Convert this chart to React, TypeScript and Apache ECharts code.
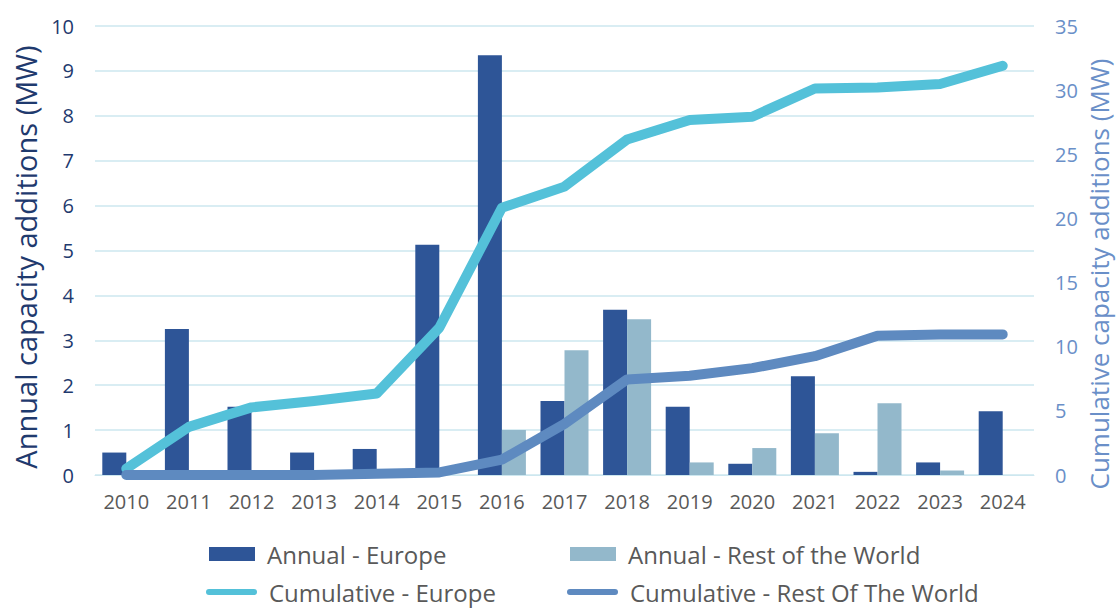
import React, { useEffect, useRef } from "react";
import * as echarts from "echarts";

const years = ["2010","2011","2012","2013","2014","2015","2016","2017","2018","2019","2020","2021","2022","2023","2024"];
const annualEurope = [0.5, 3.25, 1.52, 0.5, 0.58, 5.13, 9.35, 1.65, 3.68, 1.52, 0.25, 2.2, 0.07, 0.28, 1.42];
const annualRow = [0, 0, 0, 0, 0, 0, 1.0, 2.78, 3.47, 0.28, 0.6, 0.93, 1.6, 0.1, 0];
const cumEurope = [0.5, 3.75, 5.27, 5.77, 6.35, 11.48, 20.83, 22.48, 26.16, 27.68, 27.93, 30.13, 30.2, 30.48, 31.9];
const cumRow = [0, 0, 0, 0, 0.1, 0.2, 1.2, 3.98, 7.45, 7.73, 8.33, 9.26, 10.86, 10.96, 10.96];
const leftTicks = { min: 0, max: 10, interval: 1 };
const rightTicks = { min: 0, max: 35, interval: 5 };

const FONT = "'Open Sans', sans-serif";
const C_EU = "#2E5597";
const C_ROW = "#93B8CB";
const C_CEU = "#54C1D9";
const C_CROW = "#5E8AC0";
const lineIcon = "path://M3,0 L48,0 A3,3 0 0 1 48,6 L3,6 A3,3 0 0 1 3,0 Z";

export default function App() {
  const ref = useRef<HTMLDivElement>(null);
  useEffect(() => {
    const chart = echarts.init(ref.current!, null, { renderer: "svg" });
    const legendText = { fontFamily: FONT, fontSize: 24, color: "#595959", padding: [0, 0, 0, 7] };
    chart.setOption({
      animation: false,
      backgroundColor: "#ffffff",
      grid: { left: 95, right: 83, top: 26, bottom: 134, containLabel: false },
      legend: [
        { data: ["Annual - Europe"], left: 204, top: 537, itemWidth: 46, itemHeight: 14, textStyle: legendText, icon: "rect" },
        { data: ["Annual - Rest of the World"], left: 565, top: 537, itemWidth: 46, itemHeight: 14, textStyle: legendText, icon: "rect" },
        { data: ["Cumulative - Europe"], left: 201, top: 575, itemWidth: 51, itemHeight: 6, textStyle: legendText, icon: lineIcon },
        { data: ["Cumulative - Rest Of The World"], left: 562, top: 575, itemWidth: 51, itemHeight: 6, textStyle: legendText, icon: lineIcon },
      ],
      xAxis: {
        type: "category",
        data: years,
        axisLine: { show: true, lineStyle: { color: "#CDE7EF", width: 1 } },
        axisTick: { show: false },
        axisLabel: { fontFamily: FONT, fontSize: 20, color: "#595959", margin: 16 },
      },
      yAxis: [
        {
          type: "value",
          ...leftTicks,
          axisLine: { show: false },
          axisTick: { show: false },
          splitLine: { show: true, lineStyle: { color: "#CDE7EF", width: 1.5 } },
          axisLabel: { fontFamily: FONT, fontSize: 20, color: "#1F3A6E", margin: 21 },
        },
        {
          type: "value",
          ...rightTicks,
          axisLine: { show: false },
          axisTick: { show: false },
          splitLine: { show: false },
          axisLabel: { fontFamily: FONT, fontSize: 20, color: "#6A8FC8", margin: 21 },
        },
      ],
      series: [
        { name: "Annual - Europe", type: "bar", data: annualEurope, itemStyle: { color: C_EU }, barWidth: 24, barGap: "0%", yAxisIndex: 0 },
        { name: "Annual - Rest of the World", type: "bar", data: annualRow, itemStyle: { color: C_ROW }, barWidth: 24, yAxisIndex: 0 },
        { name: "Cumulative - Europe", type: "line", data: cumEurope, yAxisIndex: 1, symbol: "none", lineStyle: { color: C_CEU, width: 10, cap: "round", join: "round" }, itemStyle: { color: C_CEU }, z: 5 },
        { name: "Cumulative - Rest Of The World", type: "line", data: cumRow, yAxisIndex: 1, symbol: "none", lineStyle: { color: C_CROW, width: 10, cap: "round", join: "round" }, itemStyle: { color: C_CROW }, z: 6 },
      ],
      graphic: [
        {
          type: "text",
          x: 25, y: 257, rotation: Math.PI / 2,
          style: { text: "Annual capacity additions (MW)", fontFamily: FONT, fontSize: 29, fill: "#1F3A6E", align: "center", verticalAlign: "middle" },
        },
        {
          type: "text",
          x: 1099, y: 274, rotation: Math.PI / 2,
          style: { text: "Cumulative capacity additions (MW)", fontFamily: FONT, fontSize: 26, fill: "#6A8FC8", align: "center", verticalAlign: "middle" },
        },
      ],
    });
    return () => chart.dispose();
  }, []);
  return <div ref={ref} style={{ position: "absolute", left: 0, top: 0, width: 1117, height: 609 }} />;
}
